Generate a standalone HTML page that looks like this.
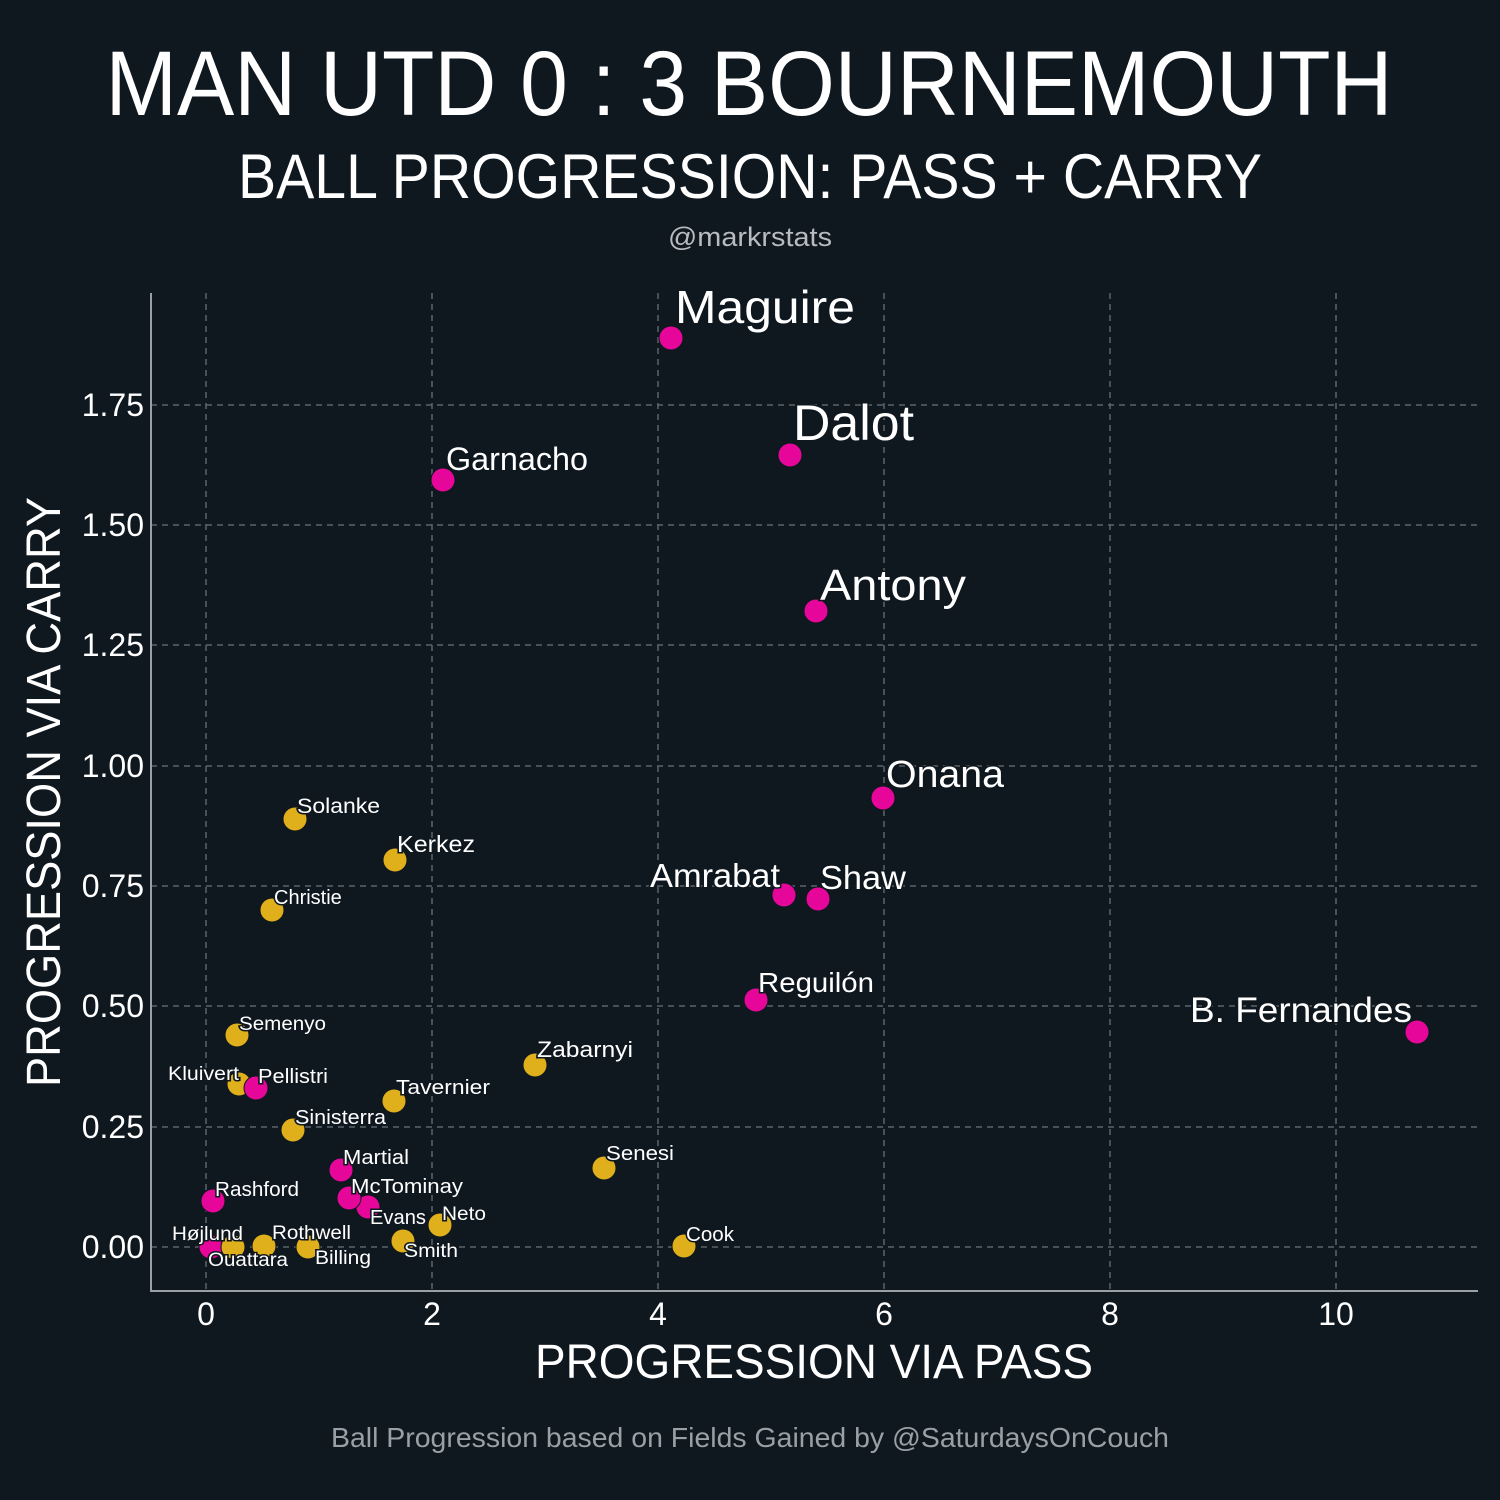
<!DOCTYPE html>
<html><head><meta charset="utf-8"><style>
html,body{margin:0;padding:0;background:#0f171f;}
svg{display:block;font-family:"Liberation Sans",sans-serif;}
.l{fill:#fff;stroke:#0f171f;stroke-width:3;paint-order:stroke;}
</style></head><body>
<svg width="1500" height="1500" viewBox="0 0 1500 1500" xmlns="http://www.w3.org/2000/svg">
<rect width="1500" height="1500" fill="#0f171f"/>
<text x="749" y="115" font-size="92" fill="#fff" text-anchor="middle" textLength="1287" lengthAdjust="spacingAndGlyphs">MAN UTD 0 : 3 BOURNEMOUTH</text>
<text x="750" y="198" font-size="63" fill="#fff" text-anchor="middle" textLength="1024" lengthAdjust="spacingAndGlyphs">BALL PROGRESSION: PASS + CARRY</text>
<text x="750" y="246" font-size="27" fill="#b8bcc0" text-anchor="middle" textLength="164" lengthAdjust="spacingAndGlyphs">@markrstats</text>
<g stroke="#5c646b" stroke-width="1.5" stroke-dasharray="6,5" fill="none">
<line x1="206" y1="293" x2="206" y2="1291"/><line x1="432" y1="293" x2="432" y2="1291"/>
<line x1="658" y1="293" x2="658" y2="1291"/><line x1="884" y1="293" x2="884" y2="1291"/>
<line x1="1110" y1="293" x2="1110" y2="1291"/><line x1="1336" y1="293" x2="1336" y2="1291"/>
<line x1="151" y1="1247" x2="1478" y2="1247"/><line x1="151" y1="1127" x2="1478" y2="1127"/>
<line x1="151" y1="1006" x2="1478" y2="1006"/><line x1="151" y1="886" x2="1478" y2="886"/>
<line x1="151" y1="766" x2="1478" y2="766"/><line x1="151" y1="645" x2="1478" y2="645"/>
<line x1="151" y1="525" x2="1478" y2="525"/><line x1="151" y1="405" x2="1478" y2="405"/>
</g>
<g stroke="#9aa0a5" stroke-width="2"><line x1="151" y1="293" x2="151" y2="1292"/><line x1="150" y1="1291" x2="1478" y2="1291"/></g>
<g fill="#fff" font-size="32" text-anchor="end">
<text x="144" y="1258">0.00</text><text x="144" y="1138">0.25</text><text x="144" y="1017">0.50</text>
<text x="144" y="897">0.75</text><text x="144" y="777">1.00</text><text x="144" y="656">1.25</text>
<text x="144" y="536">1.50</text><text x="144" y="416">1.75</text>
</g>
<g fill="#fff" font-size="32" text-anchor="middle">
<text x="206" y="1325">0</text><text x="432" y="1325">2</text><text x="658" y="1325">4</text>
<text x="884" y="1325">6</text><text x="1110" y="1325">8</text><text x="1336" y="1325">10</text>
</g>
<text x="814" y="1378" font-size="48" fill="#fff" text-anchor="middle" textLength="558" lengthAdjust="spacingAndGlyphs">PROGRESSION VIA PASS</text>
<text transform="translate(60,792) rotate(-90)" font-size="48" fill="#fff" text-anchor="middle" textLength="590" lengthAdjust="spacingAndGlyphs">PROGRESSION VIA CARRY</text>
<text x="750" y="1447" font-size="28" fill="#9aa0a5" text-anchor="middle" textLength="838" lengthAdjust="spacingAndGlyphs">Ball Progression based on Fields Gained by @SaturdaysOnCouch</text>
<g stroke="#0f171f" stroke-width="1">
<g fill="#e0b01c">
<circle cx="295" cy="819" r="12"/><circle cx="395" cy="860" r="12"/><circle cx="272" cy="910" r="12"/>
<circle cx="237" cy="1035" r="12"/><circle cx="239" cy="1084" r="12"/><circle cx="535" cy="1065" r="12"/>
<circle cx="394" cy="1101" r="12"/><circle cx="293" cy="1130" r="12"/><circle cx="604" cy="1168" r="12"/>
<circle cx="440" cy="1225" r="12"/><circle cx="684" cy="1246" r="12"/><circle cx="403" cy="1241" r="12"/>
<circle cx="308" cy="1247" r="12"/><circle cx="264" cy="1246" r="12"/>
</g>
<g fill="#e6079a">
<circle cx="671" cy="338" r="12"/><circle cx="790" cy="455" r="12"/><circle cx="443" cy="480" r="12"/>
<circle cx="816" cy="611" r="12"/><circle cx="883" cy="798" r="12"/><circle cx="784" cy="895" r="12"/>
<circle cx="818" cy="899" r="12"/><circle cx="756" cy="1000" r="12"/><circle cx="1417" cy="1032" r="12"/>
<circle cx="256" cy="1088" r="12"/><circle cx="341" cy="1170" r="12"/><circle cx="368" cy="1207" r="12"/>
<circle cx="349" cy="1198" r="12"/><circle cx="213" cy="1201" r="12"/><circle cx="211" cy="1247" r="12"/>
</g>
<circle cx="233" cy="1247" r="12" fill="#e0b01c"/>
</g>
<g class="l">
<text x="675" y="323" font-size="46" textLength="180" lengthAdjust="spacingAndGlyphs">Maguire</text>
<text x="793" y="440" font-size="50" textLength="121" lengthAdjust="spacingAndGlyphs">Dalot</text>
<text x="446" y="470" font-size="32" textLength="142" lengthAdjust="spacingAndGlyphs">Garnacho</text>
<text x="820" y="600" font-size="44" textLength="146" lengthAdjust="spacingAndGlyphs">Antony</text>
<text x="886" y="787" font-size="38" textLength="118" lengthAdjust="spacingAndGlyphs">Onana</text>
<text x="780" y="887" font-size="33" text-anchor="end" textLength="130" lengthAdjust="spacingAndGlyphs">Amrabat</text>
<text x="820" y="889" font-size="33" textLength="86" lengthAdjust="spacingAndGlyphs">Shaw</text>
<text x="758" y="992" font-size="28" textLength="116" lengthAdjust="spacingAndGlyphs">Reguilón</text>
<text x="1412" y="1022" font-size="35" text-anchor="end" textLength="222" lengthAdjust="spacingAndGlyphs">B. Fernandes</text>
<text x="297" y="813" font-size="21" textLength="83" lengthAdjust="spacingAndGlyphs">Solanke</text>
<text x="397" y="852" font-size="23" textLength="78" lengthAdjust="spacingAndGlyphs">Kerkez</text>
<text x="274" y="904" font-size="20">Christie</text>
<text x="239" y="1030" font-size="19" textLength="87" lengthAdjust="spacingAndGlyphs">Semenyo</text>
<text x="239" y="1080" font-size="19" text-anchor="end" textLength="71" lengthAdjust="spacingAndGlyphs">Kluivert</text>
<text x="258" y="1083" font-size="20" textLength="70" lengthAdjust="spacingAndGlyphs">Pellistri</text>
<text x="537" y="1057" font-size="22" textLength="96" lengthAdjust="spacingAndGlyphs">Zabarnyi</text>
<text x="396" y="1094" font-size="20" textLength="94" lengthAdjust="spacingAndGlyphs">Tavernier</text>
<text x="295" y="1124" font-size="20" textLength="91" lengthAdjust="spacingAndGlyphs">Sinisterra</text>
<text x="606" y="1160" font-size="20" textLength="68" lengthAdjust="spacingAndGlyphs">Senesi</text>
<text x="343" y="1164" font-size="20" textLength="66" lengthAdjust="spacingAndGlyphs">Martial</text>
<text x="351" y="1193" font-size="20" textLength="112" lengthAdjust="spacingAndGlyphs">McTominay</text>
<text x="370" y="1224" font-size="20" textLength="56" lengthAdjust="spacingAndGlyphs">Evans</text>
<text x="442" y="1220" font-size="19" textLength="44" lengthAdjust="spacingAndGlyphs">Neto</text>
<text x="215" y="1196" font-size="20" textLength="84" lengthAdjust="spacingAndGlyphs">Rashford</text>
<text x="686" y="1241" font-size="20" textLength="48" lengthAdjust="spacingAndGlyphs">Cook</text>
<text x="243" y="1240" font-size="19" text-anchor="end" textLength="71" lengthAdjust="spacingAndGlyphs">Højlund</text>
<text x="208" y="1266" font-size="19" textLength="80" lengthAdjust="spacingAndGlyphs">Ouattara</text>
<text x="272" y="1239" font-size="19" textLength="79" lengthAdjust="spacingAndGlyphs">Rothwell</text>
<text x="315" y="1264" font-size="19" textLength="56" lengthAdjust="spacingAndGlyphs">Billing</text>
<text x="404" y="1257" font-size="19" textLength="54" lengthAdjust="spacingAndGlyphs">Smith</text>
</g>
</svg>
</body></html>
